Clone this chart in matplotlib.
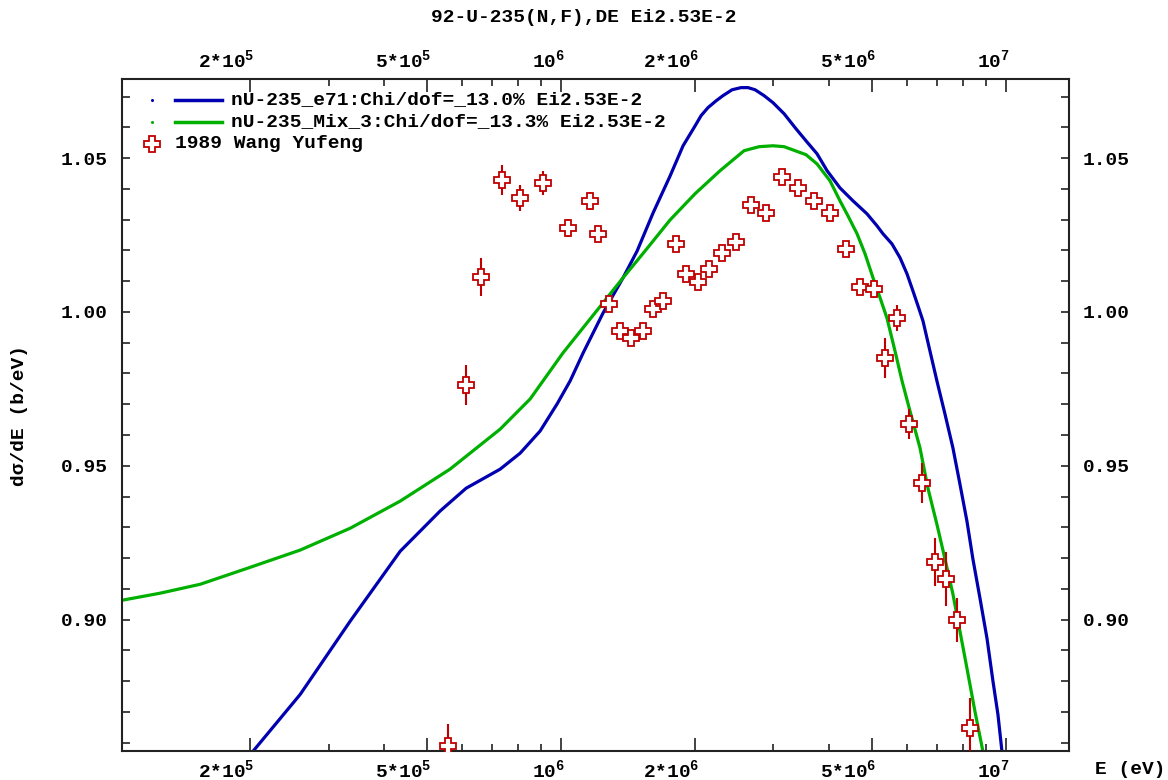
import matplotlib
matplotlib.use('Agg')
import matplotlib.pyplot as plt
import matplotlib.transforms as mtransforms
from matplotlib.lines import Line2D
from matplotlib.ticker import FixedLocator, NullFormatter

plt.rcParams['font.family'] = ['Liberation Mono', 'DejaVu Sans Mono']
plt.rcParams['font.weight'] = 'bold'
plt.rcParams['mathtext.fontset'] = 'custom'
plt.rcParams['mathtext.rm'] = 'Liberation Mono:bold'
plt.rcParams['mathtext.default'] = 'rm'

title = '92-U-235(N,F),DE Ei2.53E-2'
e71_label = 'nU-235_e71:Chi/dof=_13.0% Ei2.53E-2'
mix_label = 'nU-235_Mix_3:Chi/dof=_13.3% Ei2.53E-2'
exp_label = '1989 Wang Yufeng'

# evaluation nU-235_e71 (blue)
e71_E = [1.950e5, 2.021e5, 2.591e5, 3.356e5, 4.346e5, 5.346e5, 6.116e5, 7.294e5,
         8.090e5, 8.971e5, 9.795e5, 1.048e6, 1.121e6, 1.243e6, 1.378e6, 1.482e6,
         1.610e6, 1.758e6, 1.880e6, 1.990e6, 2.064e6, 2.139e6, 2.230e6, 2.312e6,
         2.423e6, 2.538e6, 2.632e6, 2.729e6, 2.859e6, 2.995e6, 3.172e6, 3.357e6,
         3.553e6, 3.761e6, 3.962e6, 4.236e6, 4.531e6, 4.870e6, 5.129e6, 5.291e6,
         5.544e6, 5.780e6, 5.991e6, 6.180e6, 6.342e6, 6.508e6, 6.748e6, 6.995e6,
         7.294e6, 7.600e6, 7.882e6, 8.172e6, 8.428e6, 8.741e6, 9.066e6, 9.350e6,
         9.594e6, 9.795e6, 9.950e6]
e71_y = [0.8539, 0.8569, 0.8757, 0.8995, 0.9222, 0.9353, 0.9427, 0.9489,
         0.9541, 0.9613, 0.9701, 0.9776, 0.9867, 0.9997, 1.0111, 1.0198,
         1.0322, 1.0442, 1.0540, 1.0599, 1.0638, 1.0664, 1.0686, 1.0703,
         1.0722, 1.0729, 1.0729, 1.0722, 1.0703, 1.0680, 1.0644, 1.0599,
         1.0556, 1.0514, 1.0459, 1.0403, 1.0361, 1.0319, 1.0280, 1.0254,
         1.0221, 1.0176, 1.0124, 1.0068, 1.0020, 0.9971, 0.9873, 0.9776,
         0.9668, 0.9558, 0.9440, 0.9320, 0.9197, 0.9070, 0.8939, 0.8800,
         0.8692, 0.8572, 0.8507]

# evaluation nU-235_Mix_3 (green)
mix_E = [1.031e5, 1.256e5, 1.545e5, 2.000e5, 2.591e5, 3.356e5, 4.346e5, 5.627e5,
         7.294e5, 8.518e5, 1.010e6, 1.162e6, 1.378e6, 1.544e6, 1.758e6, 2.000e6,
         2.277e6, 2.578e6, 2.786e6, 2.995e6, 3.172e6, 3.357e6, 3.553e6, 3.761e6,
         4.023e6, 4.236e6, 4.415e6, 4.627e6, 4.822e6, 5.025e6, 5.212e6, 5.402e6,
         5.631e6, 5.839e6, 6.085e6, 6.409e6, 6.678e6, 6.995e6, 7.294e6, 7.600e6,
         7.882e6, 8.172e6, 8.517e6, 8.876e6, 9.020e6]
mix_y = [0.9063, 0.9086, 0.9115, 0.9170, 0.9226, 0.9297, 0.9385, 0.9489,
         0.9619, 0.9717, 0.9867, 0.9977, 1.0111, 1.0198, 1.0299, 1.0384,
         1.0459, 1.0524, 1.0537, 1.0540, 1.0537, 1.0524, 1.0511, 1.0481,
         1.0426, 1.0361, 1.0312, 1.0254, 1.0189, 1.0111, 1.0046, 0.9980,
         0.9873, 0.9776, 0.9678, 0.9558, 0.9427, 0.9310, 0.9197, 0.9083,
         0.8962, 0.8842, 0.8702, 0.8572, 0.8507]

# 1989 Wang Yufeng
exp_E = [5.573e5, 6.116e5, 6.611e5, 7.369e5, 8.090e5, 9.112e5, 1.037e6, 1.162e6,
         1.211e6, 1.282e6, 1.357e6, 1.436e6, 1.529e6, 1.610e6, 1.695e6, 1.813e6,
         1.910e6, 2.032e6, 2.151e6, 2.301e6, 2.474e6, 2.673e6, 2.888e6, 3.138e6,
         3.409e6, 3.703e6, 4.023e6, 4.370e6, 4.697e6, 5.051e6, 5.348e6, 5.690e6,
         6.053e6, 6.475e6, 6.925e6, 7.333e6, 7.762e6, 8.301e6]
exp_y = [0.8588, 0.9763, 1.0114, 1.0429, 1.0371, 1.0420, 1.0273, 1.0361,
         1.0254, 1.0026, 0.9938, 0.9915, 0.9938, 1.0010, 1.0036, 1.0221,
         1.0124, 1.0098, 1.0140, 1.0192, 1.0228, 1.0348, 1.0322, 1.0439,
         1.0403, 1.0361, 1.0322, 1.0205, 1.0081, 1.0075, 0.9850, 0.9980,
         0.9636, 0.9444, 0.9187, 0.9131, 0.8998, 0.8647]
exp_err = [0.0072, 0.0065, 0.0062, 0.0049, 0.0042, 0.0039, 0.0029, 0.0029,
           0.0023, 0.0016, 0.0013, 0.0013, 0.0013, 0.0013, 0.0013, 0.0013,
           0.0013, 0.0013, 0.0013, 0.0013, 0.0013, 0.0013, 0.0013, 0.0013,
           0.0013, 0.0013, 0.0013, 0.0016, 0.0016, 0.0029, 0.0065, 0.0042,
           0.0049, 0.0065, 0.0078, 0.0088, 0.0072, 0.0098]

xmajor = [2e5, 5e5, 1e6, 2e6, 5e6, 1e7]
xmajor_labels = [r'2*10$^5$', r'5*10$^5$', r'10$^6$', r'2*10$^6$', r'5*10$^6$', r'10$^7$']
xminor = [3e5, 4e5, 6e5, 7e5, 8e5, 9e5, 3e6, 4e6, 6e6, 7e6, 8e6, 9e6]
ymajor = [0.90, 0.95, 1.00, 1.05]
yminor = [0.86, 0.87, 0.88, 0.89, 0.91, 0.92, 0.93, 0.94, 0.96, 0.97, 0.98, 0.99,
          1.01, 1.02, 1.03, 1.04, 1.06, 1.07]

BLUE = '#0000b0'
GREEN = '#00b000'
RED = '#c00000'
FS = 14

W, H = 1168, 780
fig = plt.figure(figsize=(W / 100, H / 100), dpi=100)
ax = fig.add_axes([122 / W, 1 - 751 / H, (1069 - 122) / W, (751 - 79) / H])

def fx(px):
    return px / W

def fy(py):
    return 1 - py / H

ax.plot(e71_E, e71_y, color=BLUE, lw=2.3, zorder=2)
ax.plot(mix_E, mix_y, color=GREEN, lw=2.3, zorder=2)
ax.errorbar(exp_E, exp_y, yerr=exp_err, fmt='none', ecolor=RED, elinewidth=1.5,
            capsize=0, zorder=3)
ax.plot(exp_E, exp_y, 'P', ms=11, mfc='white', mec=RED, mew=1.3, zorder=4)

ax.set_xscale('log')
ax.set_xlim(1.03e5, 1.386e7)
ax.set_ylim(0.8573, 1.0757)

ax.xaxis.set_major_locator(FixedLocator(xmajor))
ax.xaxis.set_minor_locator(FixedLocator(xminor))
ax.xaxis.set_major_formatter(NullFormatter())
ax.xaxis.set_minor_formatter(NullFormatter())
ax.yaxis.set_major_locator(FixedLocator(ymajor))
ax.yaxis.set_minor_locator(FixedLocator(yminor))
ax.set_yticklabels(['%.2f' % v for v in ymajor])

ax.tick_params(axis='x', which='major', direction='in', length=9.5, width=1.2,
               top=True, bottom=True, color='#222222')
ax.tick_params(axis='x', which='minor', direction='in', length=5, width=1.2,
               top=True, bottom=True, color='#222222')
ax.tick_params(axis='y', which='both', direction='in', length=6, width=1.2,
               left=True, right=True, labelleft=True, labelright=True,
               labelsize=FS, color='#222222')
ax.tick_params(axis='y', which='major', pad=10)
for lab in ax.get_yticklabels():
    lab.set_fontweight('bold')
for sp in ax.spines.values():
    sp.set_linewidth(1.5)
    sp.set_color('#222222')

# tick labels on top and bottom, set just left of each tick
off = mtransforms.ScaledTranslation(4 / 100, 0, fig.dpi_scale_trans)
up = mtransforms.ScaledTranslation(0, 8 / 100, fig.dpi_scale_trans)
down = mtransforms.ScaledTranslation(0, -8 / 100, fig.dpi_scale_trans)
for v, s in zip(xmajor, xmajor_labels):
    ax.text(v, 1.0, s, transform=ax.get_xaxis_transform() + off + up,
            ha='right', va='bottom', fontsize=FS, fontweight='bold')
    ax.text(v, 0.0, s, transform=ax.get_xaxis_transform() + off + down,
            ha='right', va='top', fontsize=FS, fontweight='bold')

fig.text(0.5, fy(17), title, ha='center', va='center', fontsize=FS, fontweight='bold')
fig.text(fx(20), fy(415), 'dσ/dE (b/eV)', rotation=90, ha='center', va='center',
         fontsize=FS, fontweight='bold')
fig.text(fx(1095), fy(769), 'E (eV)', ha='left', va='center', fontsize=FS,
         fontweight='bold')

# legend
rows = [(100, BLUE, e71_label), (122, GREEN, mix_label)]
for py, c, lab in rows:
    fig.add_artist(Line2D([fx(152)], [fy(py)], marker='o', ms=1.2, color=c, lw=0))
    fig.add_artist(Line2D([fx(175), fx(222)], [fy(py), fy(py)], color=c, lw=2.5))
    fig.text(fx(231), fy(py), lab, ha='left', va='center', fontsize=FS,
             fontweight='bold')
fig.add_artist(Line2D([fx(152)], [fy(144)], marker='P', ms=11, mfc='white',
                      mec=RED, mew=1.3, lw=0))
fig.text(fx(175), fy(144), exp_label, ha='left', va='center', fontsize=FS,
         fontweight='bold')

fig.savefig('out.png', dpi=100)
